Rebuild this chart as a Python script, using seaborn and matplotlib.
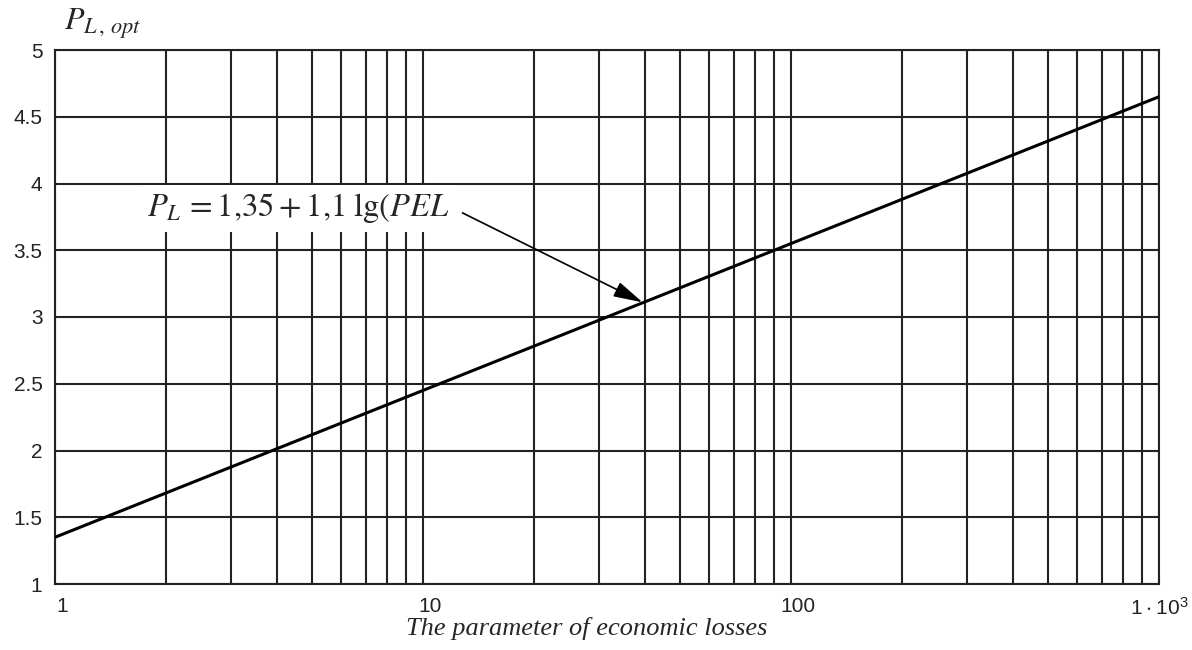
import matplotlib
matplotlib.use("Agg")
import matplotlib.pyplot as plt
import matplotlib.transforms as mtransforms
import seaborn as sns
import pandas as pd
from matplotlib.ticker import FixedLocator, FixedFormatter, LogLocator, NullFormatter

# Data
pel = [1, 10, 100, 1000]
p_opt = [1.35, 2.45, 3.55, 4.65]
x_tick_values = [1, 10, 100, 1000]
x_tick_labels = ["1", "10", "100", r"$\mathregular{1\cdot10^{3}}$"]
y_ticks = [1, 1.5, 2, 2.5, 3, 3.5, 4, 4.5, 5]
y_tick_labels = ["1", "1.5", "2", "2.5", "3", "3.5", "4", "4.5", "5"]
annot_xy = (39.5, 3.11)
annot_text_xy = (1.78, 3.815)
arrow_start_xy = (12.8, 3.78)

sns.set_theme(style="white")
plt.rcParams['font.family'] = ['Liberation Sans', 'DejaVu Sans']
plt.rcParams['mathtext.fontset'] = 'custom'
plt.rcParams['mathtext.rm'] = 'Liberation Sans'

df = pd.DataFrame({"PEL": pel, "P": p_opt})

fig = plt.figure(figsize=(11.92, 6.5), dpi=100)
ax = fig.add_axes([55/1192, 1-584/650, 1104/1192, 534/650])

sns.lineplot(data=df, x="PEL", y="P", ax=ax, color="black", linewidth=2.2, zorder=5)
ax.set_xscale("log")
ax.set_xlim(1, 1000)
ax.set_ylim(1, 5)

ax.xaxis.set_major_locator(FixedLocator(x_tick_values))
ax.xaxis.set_major_formatter(FixedFormatter(x_tick_labels))
ax.xaxis.set_minor_locator(LogLocator(base=10, subs=range(2, 10)))
ax.xaxis.set_minor_formatter(NullFormatter())
ax.set_yticks(y_ticks)
ax.set_yticklabels(y_tick_labels)

ax.grid(True, which="both", axis="x", color="#222222", linewidth=1.5)
ax.grid(True, which="major", axis="y", color="#222222", linewidth=1.5)
ax.set_axisbelow(True)
ax.tick_params(axis="both", which="both", length=0, labelsize=15, colors="#222222")
ax.tick_params(axis="x", pad=9)
ax.tick_params(axis="y", pad=9)
for i, lab in enumerate(ax.get_xticklabels()):
    lab.set_horizontalalignment("center")
    dx = 5/72 if i < 3 else 0
    lab.set_transform(lab.get_transform() + mtransforms.ScaledTranslation(dx, 0, fig.dpi_scale_trans))
for s in ax.spines.values():
    s.set_color("#222222")
    s.set_linewidth(1.5)

ax.set_xlabel("The parameter of economic losses", fontsize=19, family="Liberation Serif",
              style="italic")
ax.xaxis.set_label_coords((587-55)/1104, -(628-584)/534)
ax.xaxis.label.set_va("center")
ax.set_ylabel("")
fig.text(64/1192, 1-24/650, r"$P_{L\,,\,opt}$", fontsize=23, family="Liberation Serif",
         math_fontfamily="stix", va="center", ha="left")

ax.text(annot_text_xy[0], annot_text_xy[1], r"$P_L\,=1{,}35+1{,}1\;\mathrm{lg}(PEL$",
        fontsize=23.5, math_fontfamily="stix", ha="left", va="center",
        bbox=dict(boxstyle="square,pad=0.2", fc="white", ec="none"), zorder=6)
ax.annotate("", xy=annot_xy, xytext=arrow_start_xy,
            arrowprops=dict(arrowstyle="-|>,head_length=1.5,head_width=0.4", color="black",
                            lw=1.2, shrinkA=0, shrinkB=0),
            zorder=6)

fig.savefig("out.png", dpi=100, facecolor="white")
